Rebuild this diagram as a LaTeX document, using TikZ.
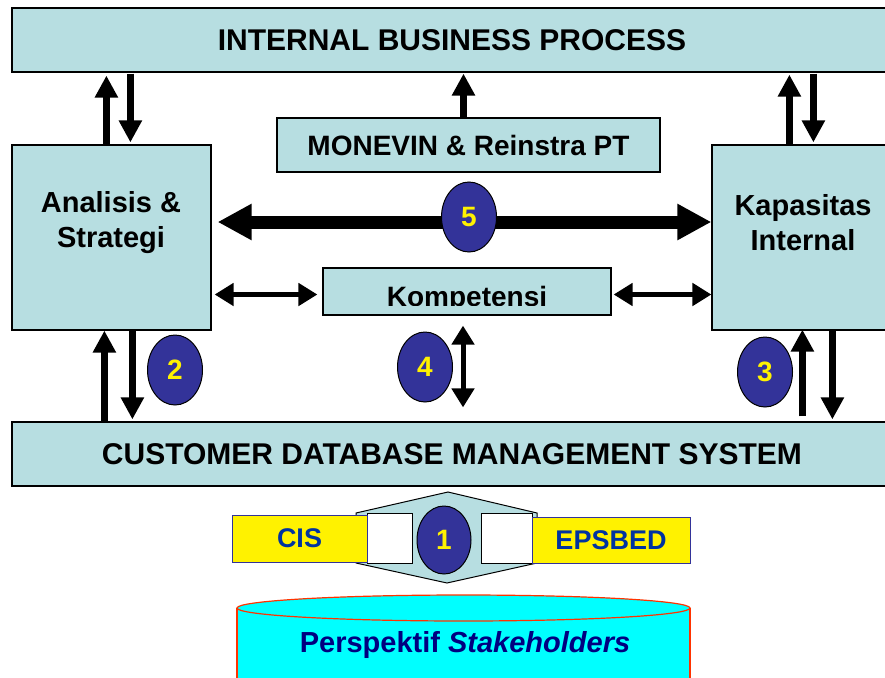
\documentclass[tikz,border=0pt]{standalone}
\usepackage{fontspec}
\setmainfont{Liberation Sans}
\usetikzlibrary{arrows.meta,shapes.geometric}
\definecolor{boxblue}{HTML}{B7DEE1}
\definecolor{numblue}{HTML}{333399}
\definecolor{cisblue}{HTML}{0033A0}
\definecolor{navyblue}{HTML}{000080}
\definecolor{cylred}{HTML}{FF3300}
\definecolor{drumcyan}{HTML}{00FFFF}

\begin{document}
\begin{tikzpicture}[x=1pt,y=-1pt,
    box/.style={draw,fill=boxblue,line width=1.2pt,inner sep=0pt},
    lbl/.style={font=\bfseries\fontsize{28}{35}\selectfont,align=center},
    num/.style={ellipse,draw,line width=1pt,fill=numblue,inner sep=0pt,minimum width=55pt,minimum height=70pt,
      text=yellow,font=\bfseries\fontsize{28}{30}\selectfont},
    ybox/.style={draw=numblue,fill=yellow,line width=1pt,inner sep=0pt,text=cisblue,font=\bfseries\fontsize{27}{30}\selectfont},
    wbox/.style={draw,fill=white,line width=1pt,inner sep=0pt},
    arr/.style={line width=7pt,-{Triangle[length=22pt,width=22pt]}},
    darr/.style={line width=5pt,{Triangle[length=19pt,width=22pt]}-{Triangle[length=19pt,width=22pt]}},
    bigarr/.style={line width=13pt,{Triangle[length=34pt,width=34pt]}-{Triangle[length=34pt,width=34pt]}}]
  \useasboundingbox (0,0) rectangle (885,677);
  \clip (0,0) rectangle (885,677);

  % boxes
  \node[box,lbl,font=\bfseries\fontsize{30}{35}\selectfont,minimum width=880pt,minimum height=64pt] (ibp) at (452,40) {INTERNAL BUSINESS PROCESS};
  \node[box,lbl,minimum width=383pt,minimum height=54pt] (mon) at (468.5,145) {MONEVIN \& Reinstra PT};
  \node[box,minimum width=199pt,minimum height=185pt] (ana) at (111.5,237.5) {};
  \node[lbl,font=\bfseries\fontsize{29}{35}\selectfont] (anaT) at (111,223) {Analisis \&\\Strategi};
  \node[box,minimum width=180pt,minimum height=185pt] (kap) at (802,237.5) {};
  \node[lbl,font=\bfseries\fontsize{29}{35}\selectfont] (kapT) at (803,223) {Kapasitas\\Internal};
  \node[box,minimum width=288pt,minimum height=47pt] (kom) at (467,291.5) {};
  \begin{scope}
    \clip (kom.north west) rectangle ([yshift=10pt]kom.south east);
    \node[lbl,anchor=base] (komT) at (467,306) {Kompetensi};
  \end{scope}
  \node[box,lbl,font=\bfseries\fontsize{30}{35}\selectfont,minimum width=880pt,minimum height=64pt] (cdms) at (452,454) {CUSTOMER DATABASE MANAGEMENT SYSTEM};

  % arrows between the boxes
  \draw[arr] ([xshift=95pt]ana.north west) -- ([xshift=95pt,yshift=-3pt]ana.north west |- ibp.south);
  \draw[arr] ([xshift=119pt,yshift=-1pt]ana.north west |- ibp.south) -- ([xshift=119pt,yshift=2pt]ana.north west);
  \draw[arr] ([xshift=-5pt]mon.north) -- ([xshift=-5pt,yshift=-1pt]mon.north |- ibp.south);
  \draw[arr] ([xshift=78pt]kap.north west) -- ([xshift=78pt,yshift=-2pt]kap.north west |- ibp.south);
  \draw[arr] ([xshift=102pt,yshift=-1pt]kap.north west |- ibp.south) -- ([xshift=102pt,yshift=2pt]kap.north west);
  \draw[arr] ([xshift=93pt,yshift=-1pt]ana.south west |- cdms.north) -- ([xshift=93pt]ana.south west);
  \draw[arr] ([xshift=121pt]ana.south west) -- ([xshift=121pt,yshift=2pt]ana.south west |- cdms.north);
  \draw[arr] ([xshift=91pt,yshift=5pt]kap.south west |- cdms.north) -- ([xshift=91pt,yshift=1pt]kap.south west);
  \draw[arr] ([xshift=121pt]kap.south west) -- ([xshift=121pt,yshift=2pt]kap.south west |- cdms.north);
  \draw[darr] ([xshift=-4pt,yshift=-10pt]kom.south) -- ([xshift=-4pt,yshift=14pt]kom.south |- cdms.north);
  \draw[darr] ([xshift=3pt,yshift=-3pt]ana.east |- kom.west) -- ([xshift=-5pt,yshift=-3pt]kom.west);
  \draw[darr] ([xshift=2pt,yshift=-3pt]kom.east) -- ([yshift=-3pt]kap.west |- kom.east);
  \draw[bigarr] ([xshift=6pt,yshift=15.5pt]ana.east) -- ([yshift=15.5pt]kap.west);

  % numbers
  \node[num] (n5) at (469,217) {5};
  \node[num] (n2) at (175,370) {2};
  \node[num] (n4) at (425,367) {4};
  \node[num] (n3) at (765,372) {3};

  % bottom part
  \draw[fill=boxblue,line width=1pt] (356,513) -- (448,492) -- (537,513) -- (537,563) -- (447,583) -- (356,563) -- cycle;
  \node[wbox,minimum width=45pt,minimum height=50pt] (wl) at (389.5,538) {};
  \node[wbox,minimum width=51pt,minimum height=50pt] (wr) at (506.5,538) {};
  \node[ybox,minimum width=135pt,minimum height=47pt] (cis) at (299.5,538.5) {CIS};
  \node[ybox,minimum width=158pt,minimum height=46pt] (eps) at (611,540) {EPSBED};
  \node[num,minimum width=54pt,minimum height=68pt] (n1) at (444,540) {1};

  % stakeholders drum
  \fill[drumcyan] (237,608) rectangle (690,690);
  \draw[cylred,line width=1.2pt] (237,608) -- (237,690);
  \draw[cylred,line width=1.2pt] (690,608) -- (690,690);
  \draw[cylred,fill=drumcyan,line width=1.2pt] (463.5,608) ellipse [x radius=226.5, y radius=13];
  \node[lbl,text=navyblue,font=\bfseries\fontsize{29}{35}\selectfont] (stk) at (465,645) {Perspektif \textit{Stakeholders}};
\end{tikzpicture}
\end{document}
